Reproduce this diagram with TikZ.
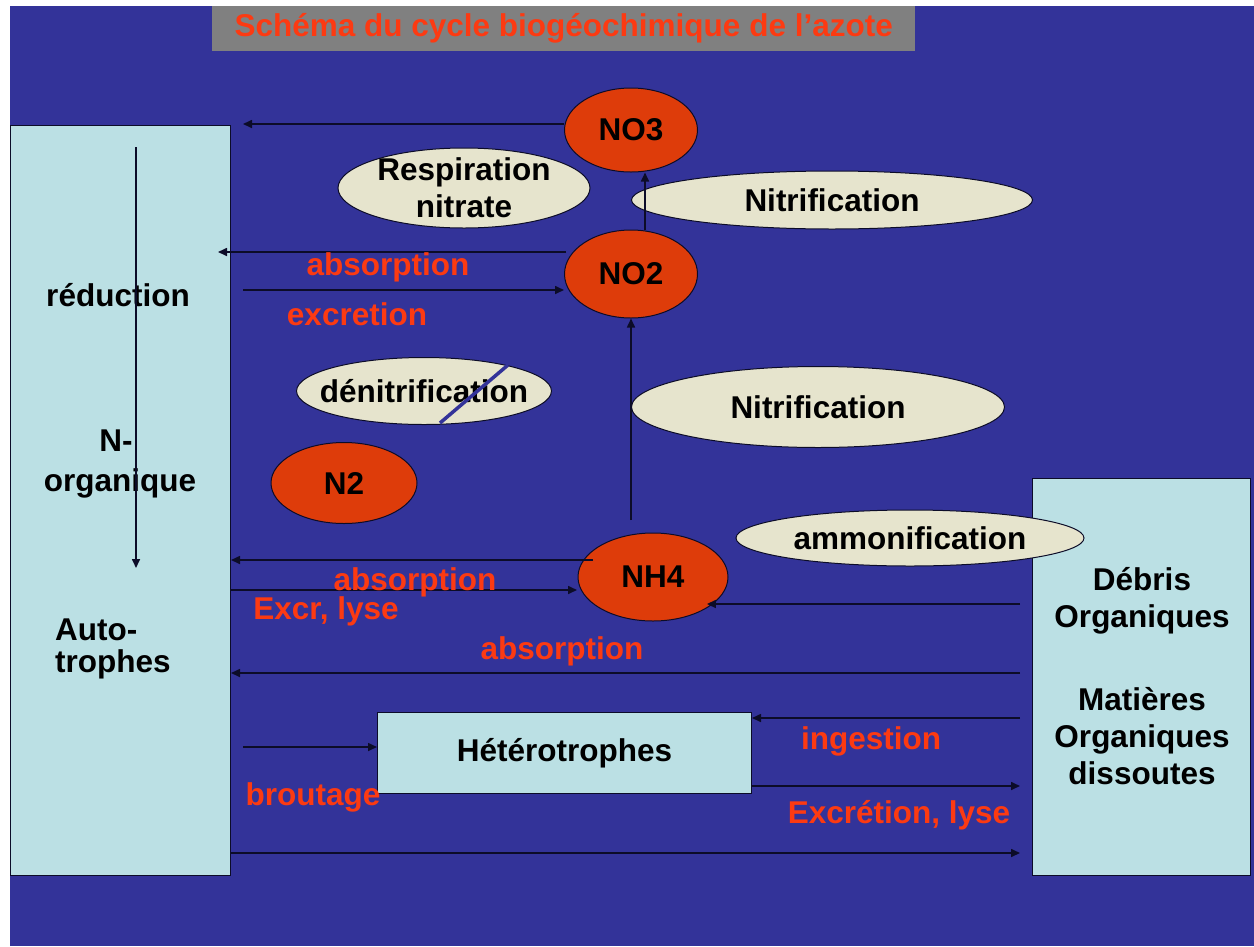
\documentclass[tikz,border=0pt]{standalone}
\usepackage{fontspec}
\setmainfont{Liberation Sans}
\usetikzlibrary{shapes.geometric,arrows.meta}
\definecolor{bgblue}{RGB}{51,51,153}
\definecolor{boxblue}{RGB}{187,224,228}
\definecolor{beige}{RGB}{230,228,205}
\definecolor{redell}{RGB}{222,60,10}
\definecolor{redtxt}{RGB}{252,58,18}
\definecolor{titlegray}{RGB}{128,128,128}
\definecolor{arrowc}{RGB}{12,12,40}
\begin{document}
\begin{tikzpicture}[x=1pt,y=-1pt,
  txt/.style={font=\fontsize{31.5}{37}\selectfont\bfseries},
  redlab/.style={txt,text=redtxt,inner sep=0pt},
  species/.style={ellipse,draw=arrowc,line width=1pt,fill=redell,txt,inner sep=0pt,minimum width=#1},
  process/.style={ellipse,draw=arrowc,line width=1pt,fill=beige,txt,inner sep=0pt,align=center},
  pool/.style={draw=arrowc,line width=1pt,fill=boxblue,txt,align=center,inner sep=0pt},
  flow/.style={draw=arrowc,line width=1.6pt,-{Triangle[length=9pt,width=8pt]}},
]
\useasboundingbox (0,0) rectangle (1254,946);
\fill[white] (0,0) rectangle (1254,946);
\fill[bgblue] (10,6) rectangle (1254,946);
% title
\node[fill=titlegray,minimum width=703pt,minimum height=45pt,inner sep=0pt,anchor=north west,
  txt,text=redtxt] (title) at (212,6) {Schéma du cycle biogéochimique de l’azote};
% pools
\node[pool,minimum width=220pt,minimum height=750pt,anchor=north west] (auto) at (10,125) {};
\node[pool,minimum width=218pt,minimum height=397pt,anchor=north west] (debris) at (1032,478) {};
\node[pool,minimum width=374pt,minimum height=81pt,anchor=north west] (hetero) at (377,712) {Hétérotrophes};
\node[txt,inner sep=0pt] (reduc) at (118,295) {réduction};
\node[txt,inner sep=0pt] (nminus) at (116,441) {N-};
\node[txt,inner sep=0pt] (norg) at (120,483) {organique};
\node[txt,inner sep=0pt,anchor=west] (auto1) at (55,630) {Auto-};
\node[txt,inner sep=0pt,anchor=west] (auto2) at (55,664) {trophes};
\node[txt,inner sep=0pt,align=center] (debtxt) at (1142,601) {Débris\\Organiques};
\node[txt,inner sep=0pt,align=center] (mattxt) at (1142,736) {Matières\\Organiques\\dissoutes};
% processes
\node[process,minimum width=252pt,minimum height=80pt,inner ysep=-4pt] (resp) at (464,188) {Respiration\\nitrate};
\node[process,minimum width=401pt,minimum height=58pt] (nitr1) at (832,200) {Nitrification};
\node[process,minimum width=254pt,minimum height=67pt,inner xsep=-14pt] (denit) at (424,391) {dénitrification};
\node[process,minimum width=373pt,minimum height=81pt] (nitr2) at (818,407) {Nitrification};
% species
\node[species=133pt,minimum height=84pt] (no3) at (631,130) {NO3};
\node[species=133pt,minimum height=88pt] (no2) at (631,274) {NO2};
\node[species=146pt,minimum height=81pt] (n2) at (344,483) {N2};
\node[species=150pt,minimum height=88pt] (nh4) at (653,577) {NH4};
\node[process,minimum width=348pt,minimum height=56pt] (ammo) at (910,538) {ammonification};
% strike on denitrification
\coordinate (s1) at (440,423);
\coordinate (s2) at (508,365);
\draw[bgblue,line width=3.5pt] (s1) -- (s2);
% arrows
\coordinate (a1) at (243,124);
\draw[flow] (no3.west |- 0,124) -- (a1);
\draw[flow] (no2.north -| 645,0) -- (no3.south -| 645,0);
\coordinate (a3) at (218,252);
\draw[flow] (no2.west |- 0,252) ++(2,0) -- (a3);
\coordinate (a4) at (243,290);
\draw[flow] (a4) -- (no2.west |- 0,290);
\coordinate (a5) at (631,520);
\draw[flow] (a5) -- (no2.south);
\coordinate (a6s) at (593,560);
\coordinate (a6e) at (auto.east |- 0,560);
\draw[flow] (a6s) -- (a6e);
\draw[flow] (auto.east |- 0,590) -- (577,590) coordinate (a7e);
\draw[flow] (1020,604) coordinate (a8s) -- (nh4.-30 |- 0,604);
\draw[flow] (1020,673) coordinate (a9s) -- (auto.east |- 0,673);
\draw[flow] (1020,718) coordinate (a10s) -- (hetero.east |- 0,718);
\draw[flow] (243,747) coordinate (a11s) -- (hetero.west |- 0,747);
\draw[flow] (hetero.east |- 0,786) -- (1020,786) coordinate (a12e);
\draw[flow] (auto.east |- 0,853) -- (1020,853) coordinate (a13e);
\draw[flow] (136,147) coordinate (v1) -- (136,568) coordinate (v2);
% red labels
\node[redlab] (l1) at (388,267) {absorption};
\node[redlab] (l2) at (357,314) {excretion};
\node[redlab] (l3) at (415,582) {absorption};
\node[redlab] (l4) at (326,611) {Excr, lyse};
\node[redlab] (l5) at (562,651) {absorption};
\node[redlab] (l6) at (871,741) {ingestion};
\node[redlab] (l7) at (313,797) {broutage};
\node[redlab] (l8) at (899,815) {Excrétion, lyse};
\end{tikzpicture}
\end{document}
